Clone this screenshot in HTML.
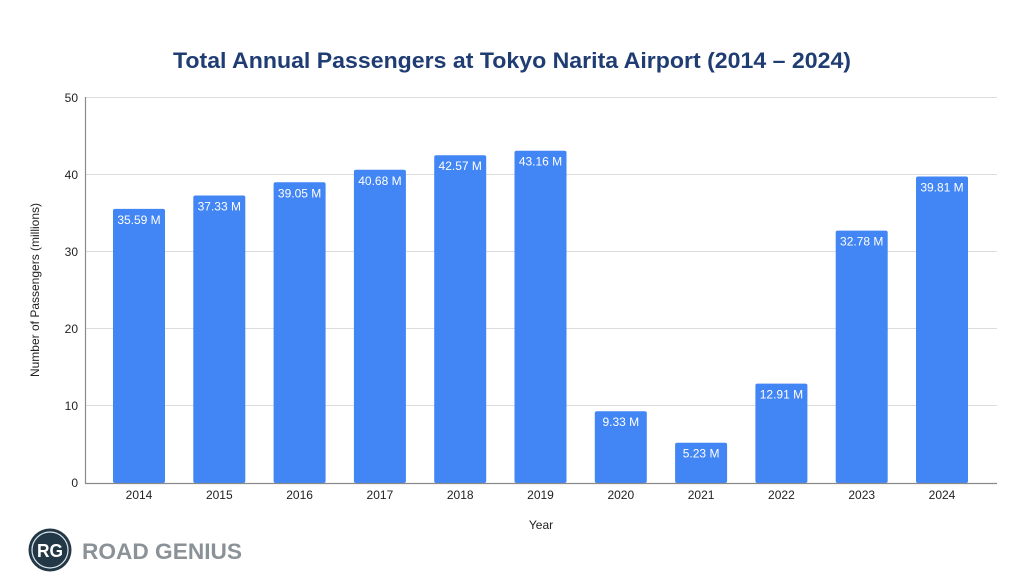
<!DOCTYPE html>
<html><head><meta charset="utf-8"><style>
html,body{margin:0;padding:0;background:#fff;}
svg{display:block;}
text{font-family:"Liberation Sans",Arial,sans-serif;}
</style></head><body>
<svg width="1024" height="582" viewBox="0 0 1024 582" xmlns="http://www.w3.org/2000/svg">
<rect width="1024" height="582" fill="#fff"/>
<text x="512" y="68" text-anchor="middle" font-size="22" font-weight="bold" fill="#1f3d73" textLength="678" lengthAdjust="spacingAndGlyphs">Total Annual Passengers at Tokyo Narita Airport (2014 – 2024)</text>
<g stroke="#dcdcdc" stroke-width="1">
<line x1="85" y1="97.5" x2="997" y2="97.5"/>
<line x1="85" y1="174.5" x2="997" y2="174.5"/>
<line x1="85" y1="251.5" x2="997" y2="251.5"/>
<line x1="85" y1="328.5" x2="997" y2="328.5"/>
<line x1="85" y1="405.5" x2="997" y2="405.5"/>
</g>
<g font-size="12" fill="#222" text-anchor="end">
<text x="78" y="102">50</text>
<text x="78" y="179">40</text>
<text x="78" y="256">30</text>
<text x="78" y="333">20</text>
<text x="78" y="410">10</text>
<text x="78" y="487">0</text>
</g>
<text transform="translate(39,290) rotate(-90)" text-anchor="middle" font-size="12" fill="#222">Number of Passengers (millions)</text>
<g fill="#4285f4">
<rect x="113" y="208.9" width="52" height="274.1" rx="2"/>
<rect x="193.3" y="195.5" width="52" height="287.5" rx="2"/>
<rect x="273.6" y="182.3" width="52" height="300.7" rx="2"/>
<rect x="353.9" y="169.8" width="52" height="313.2" rx="2"/>
<rect x="434.2" y="155.2" width="52" height="327.8" rx="2"/>
<rect x="514.5" y="150.7" width="52" height="332.3" rx="2"/>
<rect x="594.8" y="411.2" width="52" height="71.8" rx="2"/>
<rect x="675.1" y="442.7" width="52" height="40.3" rx="2"/>
<rect x="755.4" y="383.6" width="52" height="99.4" rx="2"/>
<rect x="835.7" y="230.6" width="52" height="252.4" rx="2"/>
<rect x="916" y="176.5" width="52" height="306.5" rx="2"/>
</g>
<g font-size="12" fill="#fff" text-anchor="middle">
<text x="139" y="224">35.59 M</text>
<text x="219.3" y="210.5">37.33 M</text>
<text x="299.6" y="197.3">39.05 M</text>
<text x="379.9" y="184.8">40.68 M</text>
<text x="460.2" y="170.2">42.57 M</text>
<text x="540.5" y="165.7">43.16 M</text>
<text x="620.8" y="426.2">9.33 M</text>
<text x="701.1" y="457.7">5.23 M</text>
<text x="781.4" y="398.6">12.91 M</text>
<text x="861.7" y="245.6">32.78 M</text>
<text x="942" y="191.5">39.81 M</text>
</g>
<line x1="85" y1="483.5" x2="997" y2="483.5" stroke="#8a8a8a" stroke-width="1.2"/>
<line x1="85.5" y1="97" x2="85.5" y2="484" stroke="#8a8a8a" stroke-width="1.2"/>
<g font-size="12" fill="#222" text-anchor="middle">
<text x="139" y="499">2014</text>
<text x="219.3" y="499">2015</text>
<text x="299.6" y="499">2016</text>
<text x="379.9" y="499">2017</text>
<text x="460.2" y="499">2018</text>
<text x="540.5" y="499">2019</text>
<text x="620.8" y="499">2020</text>
<text x="701.1" y="499">2021</text>
<text x="781.4" y="499">2022</text>
<text x="861.7" y="499">2023</text>
<text x="942" y="499">2024</text>
</g>
<text x="541" y="529" text-anchor="middle" font-size="12" fill="#222">Year</text>
<circle cx="50" cy="550" r="21.5" fill="#233847"/>
<circle cx="50" cy="550" r="18" fill="none" stroke="#dfe6ea" stroke-width="1.2"/>
<text x="50" y="557" text-anchor="middle" font-size="18" font-weight="bold" fill="#fff" textLength="26" lengthAdjust="spacingAndGlyphs">RG</text>
<text x="82" y="559" font-size="22" font-weight="bold" fill="#8b9297" textLength="160" lengthAdjust="spacingAndGlyphs">ROAD GENIUS</text>
</svg>
</body></html>
